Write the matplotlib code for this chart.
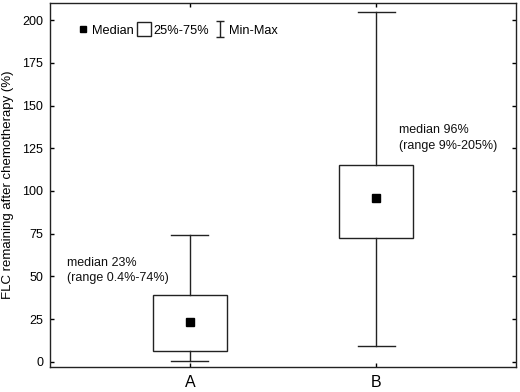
import matplotlib
matplotlib.use('Agg')
import matplotlib.pyplot as plt
from matplotlib.lines import Line2D
from matplotlib.path import Path

plt.rcParams['font.family'] = ['Liberation Sans', 'DejaVu Sans']

# data
groups = ['A', 'B']
positions = [1, 2]
q1 = [6.5, 72.5]
q3 = [39.0, 115.0]
medians = [23.5, 96.0]
mins = [0.4, 9.0]
maxs = [74.0, 205.0]
notes = ['median 23%\n(range 0.4%-74%)', 'median 96%\n(range 9%-205%)']
note_xy = [(0.34, 61.5), (2.12, 139)]
yticks = [0, 25, 50, 75, 100, 125, 150, 175, 200]

fig = plt.figure(figsize=(5.2, 3.92), dpi=100)
ax = fig.add_axes([50/520, 25/392, 466/520, 364/392])

stats = [dict(med=m, q1=a, q3=b, whislo=lo, whishi=hi, fliers=[])
         for m, a, b, lo, hi in zip(medians, q1, q3, mins, maxs)]
ax.bxp(stats, positions=positions, widths=0.4, capwidths=0.2,
       showfliers=False, patch_artist=True,
       boxprops=dict(facecolor='white', edgecolor='#222222', linewidth=1),
       whiskerprops=dict(color='#222222', linewidth=1),
       capprops=dict(color='#222222', linewidth=1),
       medianprops=dict(linewidth=0))
ax.plot(positions, medians, 's', color='black', markersize=6, linestyle='none', zorder=5)

for txt, (x, y) in zip(notes, note_xy):
    ax.text(x, y, txt, ha='left', va='top', fontsize=9, linespacing=1.4, color='#111111')

ax.set_xlim(0.25, 2.75)
ax.set_ylim(-3, 210)
ax.set_xticks(positions)
ax.set_xticklabels(groups, fontsize=11.5)
ax.set_yticks(yticks)
ax.tick_params(axis='y', labelsize=9, pad=5)
ax.tick_params(direction='in', length=3, width=1, top=True, right=True)
ax.tick_params(axis='x', pad=6)
ax.set_ylabel('FLC remaining after chemotherapy (%)', fontsize=9.5, labelpad=6)
for s in ax.spines.values():
    s.set_linewidth(1)
    s.set_color('#222222')

# legend with an I-beam symbol for Min-Max
ibeam = Path([(-0.5, 1), (0.5, 1), (0, 1), (0, -1), (-0.5, -1), (0.5, -1)],
             [Path.MOVETO, Path.LINETO, Path.MOVETO, Path.LINETO, Path.MOVETO, Path.LINETO])
handles = [
    Line2D([], [], marker='s', color='black', linestyle='none', markersize=5),
    Line2D([], [], marker='s', markerfacecolor='white', markeredgecolor='#222222',
           linestyle='none', markersize=10.5),
    Line2D([], [], marker=ibeam, color='#222222', linestyle='none', markersize=12,
           markerfacecolor='none', markeredgewidth=1),
]
ax.legend(handles, ['Median', '25%-75%', 'Min-Max'], ncol=3, frameon=False,
          loc='upper left', bbox_to_anchor=(0.035, 0.972), fontsize=9.2,
          handlelength=0.8, handletextpad=0.3, columnspacing=0.45)

fig.savefig('out.png', dpi=100)
